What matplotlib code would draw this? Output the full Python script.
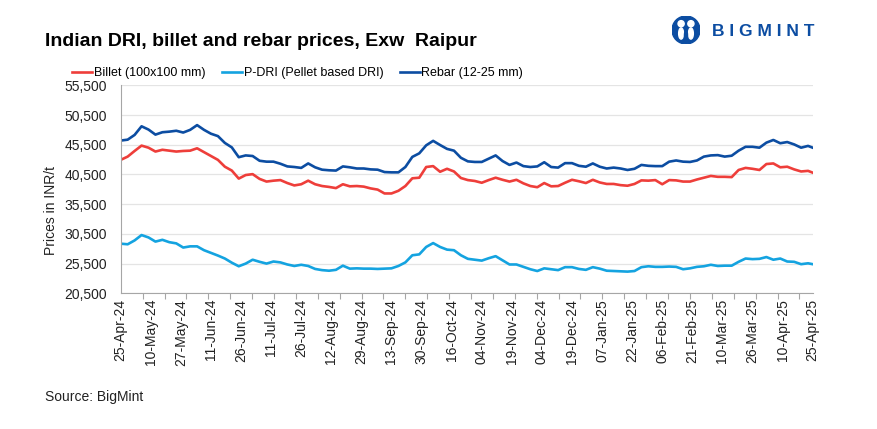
#!/usr/bin/env python3

import matplotlib
matplotlib.use("Agg")
import matplotlib.pyplot as plt
from matplotlib.patches import Circle, Ellipse
from matplotlib.ticker import FuncFormatter, MultipleLocator

# trading-day index of each reading (category axis, 300 days)
day = list(range(0, 298, 3)) + [299]

billet = [
    42950, 43500, 44450, 45350, 45000, 44350, 44650, 44500, 44350, 44450,
    44500, 44900, 44250, 43600, 42950, 41800, 41150, 39800, 40400, 40550,
    39750, 39300, 39450, 39550, 39050, 38650, 38850, 39450, 38850, 38550,
    38400, 38200, 38850, 38500, 38550, 38450, 38150, 37950, 37300, 37300,
    37750, 38550, 39850, 39950, 41750, 41900, 40950, 41450, 41000, 39900,
    39550, 39400, 39100, 39550, 39950, 39600, 39300, 39600, 39000, 38550,
    38350, 39050, 38500, 38550, 39100, 39600, 39350, 39050, 39600, 39150,
    38900, 38900, 38700, 38600, 38900, 39500, 39450, 39550, 38850, 39550,
    39500, 39300, 39300, 39650, 39950, 40250, 40100, 40100, 40050, 41250,
    41600, 41450, 41250, 42250, 42350, 41700, 41800, 41350, 41000, 41100, 40800,
]

pdri = [
    28850, 28750, 29400, 30300, 29900, 29200, 29500, 29100, 28900, 28200,
    28400, 28400, 27750, 27300, 26850, 26350, 25650, 25050, 25500, 26150,
    25800, 25500, 25850, 25700, 25350, 25100, 25300, 25100, 24600, 24400,
    24300, 24450, 25150, 24650, 24700, 24650, 24650, 24600, 24650, 24700,
    25100, 25700, 26900, 27050, 28300, 28950, 28300, 27850, 27750, 26900,
    26300, 26150, 26000, 26400, 26750, 26050, 25350, 25350, 24950, 24550,
    24250, 24700, 24550, 24400, 24900, 24900, 24600, 24450, 24900, 24650,
    24300, 24250, 24200, 24150, 24250, 24900, 25050, 24950, 24950, 25000,
    24950, 24550, 24700, 24950, 25050, 25300, 25100, 25150, 25150, 25800,
    26350, 26250, 26300, 26600, 26150, 26350, 25850, 25800, 25400, 25550, 25400,
]

rebar = [
    46200, 46350, 47150, 48600, 48050, 47200, 47600, 47700, 47850, 47550,
    48000, 48800, 48000, 47350, 46950, 45800, 45050, 43400, 43700, 43600,
    42800, 42650, 42650, 42300, 41850, 41750, 41600, 42350, 41700, 41300,
    41200, 41150, 41850, 41700, 41500, 41500, 41350, 41300, 40900, 40850,
    40850, 41750, 43450, 44050, 45400, 46150, 45450, 44800, 44500, 43300,
    42700, 42600, 42600, 43150, 43700, 42750, 42100, 42500, 41900, 41750,
    41850, 42550, 41750, 41650, 42400, 42400, 41950, 41800, 42350, 41800,
    41500, 41650, 41500, 41250, 41450, 42100, 41950, 41900, 41900, 42650,
    42850, 42650, 42600, 42850, 43500, 43700, 43750, 43500, 43650, 44500,
    45150, 45150, 45000, 45850, 46300, 45750, 45950, 45550, 45000, 45300, 45000,
]

date_labels = [
    "25-Apr-24", "10-May-24", "27-May-24", "11-Jun-24", "26-Jun-24",
    "11-Jul-24", "26-Jul-24", "12-Aug-24", "29-Aug-24", "13-Sep-24",
    "30-Sep-24", "16-Oct-24", "04-Nov-24", "19-Nov-24", "04-Dec-24",
    "19-Dec-24", "07-Jan-25", "22-Jan-25", "06-Feb-25", "21-Feb-25",
    "10-Mar-25", "26-Mar-25", "10-Apr-25", "25-Apr-25",
]
label_step = 13
y_ticks = [20500, 25500, 30500, 35500, 40500, 45500, 50500, 55500]

series = [
    ("Billet (100x100 mm)", billet, "#EE3E3A"),
    ("P-DRI (Pellet based DRI)", pdri, "#14A3E0"),
    ("Rebar (12-25 mm)", rebar, "#0C4DA2"),
]

plt.rcParams["font.family"] = ["Liberation Sans", "DejaVu Sans"]

fig = plt.figure(figsize=(8.78, 4.29), dpi=100)
ax = fig.add_axes([0.1375, 0.3163, 0.7881, 0.4849])

for name, vals, color in series:
    ax.plot(day, vals, color=color, lw=1.9, label=name, solid_joinstyle="round")

ax.set_xlim(0, 299)
ax.set_ylim(y_ticks[0], y_ticks[-1])
ax.set_yticks(y_ticks)
ax.yaxis.set_major_formatter(FuncFormatter(lambda v, p: f"{v:,.0f}"))
ax.grid(axis="y", color="#E4E4E4", lw=0.9)
ax.set_axisbelow(True)

ax.set_xticks([i * label_step for i in range(len(date_labels))])
ax.set_xticklabels(date_labels, rotation=90)
ax.xaxis.set_minor_locator(MultipleLocator(9.46))
ax.tick_params(axis="x", which="major", length=0, pad=4, labelsize=10, colors="#222222")
ax.tick_params(axis="x", which="minor", length=4, color="#A6A6A6", width=0.8)
ax.tick_params(axis="y", length=0, pad=10, labelsize=10, colors="#222222")

for s in ["top", "right"]:
    ax.spines[s].set_visible(False)
ax.spines["left"].set_color("#A6A6A6")
ax.spines["bottom"].set_color("#A6A6A6")
ax.spines["left"].set_linewidth(0.8)
ax.spines["bottom"].set_linewidth(0.8)

ax.set_ylabel("Prices in INR/t", fontsize=10, color="#222222")
ax.yaxis.set_label_coords(-0.09, 0.4)

fig.legend(
    loc="center", bbox_to_anchor=(0.339, 1 - 73 / 429), ncol=3, frameon=False,
    handlelength=1.6, handletextpad=0.15, columnspacing=1.3,
    prop={"size": 9},
)

fig.text(45 / 878, 1 - 42 / 429, "Indian DRI, billet and rebar prices, Exw  Raipur",
         fontsize=14, fontweight="bold", va="center", ha="left")

fig.text(45 / 878, 1 - 397 / 429, "Source: BigMint", fontsize=10, va="center",
         ha="left", color="#222222")

# logo
lx, ly, r = 686 / 878, 1 - 30 / 429, 14
logo = fig.add_axes([lx - r / 878, ly - r / 429, 2 * r / 878, 2 * r / 429])
logo.set_xlim(-1, 1)
logo.set_ylim(-1, 1)
logo.axis("off")
logo.add_patch(Circle((0, 0), 1, color="#0C4DA2"))
logo.add_patch(Circle((-0.35, 0.45), 0.22, color="white"))
logo.add_patch(Circle((0.35, 0.45), 0.22, color="white"))
logo.add_patch(Ellipse((-0.35, -0.25), 0.35, 0.8, color="white"))
logo.add_patch(Ellipse((0.35, -0.25), 0.35, 0.8, color="white"))
logo.add_patch(Ellipse((0, -0.4), 0.22, 0.7, color="#0C4DA2"))
fig.text(712 / 878, 1 - 31 / 429, "B I G M I N T", fontsize=12.5, fontweight="bold",
         color="#0C4DA2", va="center", ha="left")

fig.savefig("out.png", dpi=100)
